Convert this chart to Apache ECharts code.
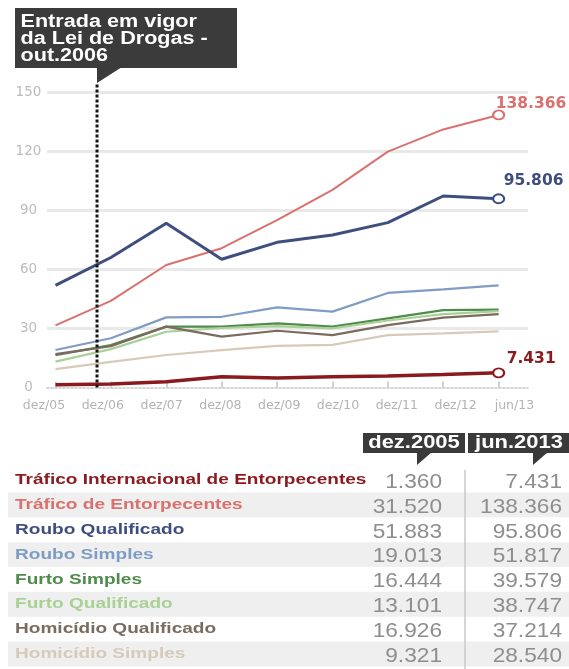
<!DOCTYPE html>
<html>
<head>
<meta charset="utf-8">
<script src="https://cdn.jsdelivr.net/npm/echarts@6/dist/echarts.min.js"></script>
<style>
  html, body { margin: 0; padding: 0; background: #fff; }
  #chart { width: 569px; height: 669px; }
</style>
</head>
<body>
<div id="chart"></div>
<script>
// Time axis: December of each year, last point June 2013
const periods = ['dez/05', 'dez/06', 'dez/07', 'dez/08', 'dez/09', 'dez/10', 'dez/11', 'dez/12', 'jun/13'];
// Value axis ticks (thousands of prisoners)
const yTicks = [0, 30, 60, 90, 120, 150];
// Drug law entering into force (out.2006), in time-axis units
const lawPosition = 0.75;
const lawLineTop = 154.6;
const lawNote = ['Entrada em vigor', 'da Lei de Drogas -', 'out.2006'];
const tableHeaders = ['dez.2005', 'jun.2013'];

// Prisoners by crime, in thousands
const crimeNames = [
  'Tráfico Internacional de Entorpecentes',
  'Tráfico de Entorpecentes',
  'Roubo Qualificado',
  'Roubo Simples',
  'Furto Simples',
  'Furto Qualificado',
  'Homicídio Qualificado',
  'Homicídio Simples'
];
const traficoInternacional = [1.360, 1.8, 2.9, 5.5, 4.8, 5.4, 5.9, 6.6, 7.431];
const traficoEntorpecentes = [31.520, 44, 62.2, 70.7, 85, 100.3, 119.7, 131, 138.366];
const rouboQualificado     = [51.883, 66, 83.4, 65.1, 73.7, 77.4, 83.7, 97.2, 95.806];
const rouboSimples         = [19.013, 25, 35.6, 35.9, 40.7, 38.5, 48, 49.8, 51.817];
const furtoSimples         = [16.444, 21.5, 30.9, 30.9, 32.6, 30.9, 35.1, 39.3, 39.579];
const furtoQualificado     = [13.101, 19.5, 28.3, 30.2, 31.2, 30.0, 34.0, 37.2, 38.747];
const homicidioQualificado = [16.926, 21, 30.9, 25.8, 28.8, 26.6, 31.7, 35.5, 37.214];
const homicidioSimples     = [9.321, 13, 16.5, 19, 21.1, 21.6, 26.6, 27.5, 28.540];

const seriesData = [
  traficoInternacional, traficoEntorpecentes, rouboQualificado, rouboSimples,
  furtoSimples, furtoQualificado, homicidioQualificado, homicidioSimples
];

// Line styles, one per crime (same order as crimeNames)
const lineStyles = [
  { color: '#8b1a1e', width: 3.5, z: 6, endLabel: [8, -14] },
  { color: '#d9716e', width: 2,   z: 4, endLabel: [-3, -10.5] },
  { color: '#3e4e7e', width: 3,   z: 5, endLabel: [5, -17.5] },
  { color: '#7f9dc4', width: 2.2, z: 3 },
  { color: '#4f8c4c', width: 2.2, z: 3 },
  { color: '#a9d096', width: 2.2, z: 3 },
  { color: '#7b6b5f', width: 2.2, z: 3 },
  { color: '#d8cab9', width: 2.2, z: 2 }
];

// 138366 -> "138.366"
function fmtBR(v) {
  const n = Math.round(v * 1000);
  return String(n).replace(/\B(?=(\d{3})+(?!\d))/g, '.');
}

const LABEL_FONT = '"Liberation Sans", Arial, Helvetica, sans-serif';

const series = seriesData.map((vals, k) => {
  const st = lineStyles[k];
  const last = vals.length - 1;
  return {
    type: 'line',
    name: crimeNames[k],
    xAxisIndex: 0,
    yAxisIndex: 0,
    z: st.z,
    silent: true,
    showSymbol: true,
    symbol: 'none',
    lineStyle: { color: st.color, width: st.width },
    itemStyle: { color: st.color },
    data: vals.map((v, i) => {
      if (st.endLabel && i === last) {
        return {
          value: [i, v],
          symbol: 'circle',
          symbolSize: [11, 9],
          itemStyle: { color: '#ffffff', borderColor: st.color, borderWidth: 2 },
          label: {
            show: true,
            position: 'inside',
            align: 'left',
            verticalAlign: 'middle',
            offset: st.endLabel,
            formatter: fmtBR(v),
            color: st.color,
            fontFamily: 'DejaVu Sans',
            fontWeight: 'bold',
            fontSize: 15.5
          }
        };
      }
      return [i, v];
    })
  };
});

// Vertical dotted marker for the law date
series.push({
  type: 'line',
  name: 'Lei de Drogas',
  xAxisIndex: 0,
  yAxisIndex: 0,
  z: 8,
  silent: true,
  clip: false,
  symbol: 'none',
  lineStyle: { color: '#141414', width: 3, type: [3, 2] },
  data: [[lawPosition, 0], [lawPosition, lawLineTop]]
});

// ---- Graphic layer: annotation box and the summary table ----
const graphics = [];

// Annotation box with pointer
graphics.push({ type: 'rect', z: 10, shape: { x: 15, y: 8, width: 222, height: 60 }, style: { fill: '#3b3b3b' } });
graphics.push({ type: 'polygon', z: 10, shape: { points: [[97, 67], [122, 67], [97, 83]] }, style: { fill: '#3b3b3b' } });
const noteY = [22, 39, 56];
lawNote.forEach((t, i) => {
  graphics.push({
    type: 'text', z: 11, x: 20.5, y: noteY[i], scaleX: 1.2,
    style: { text: t, fill: '#ffffff', font: 'bold 18px ' + LABEL_FONT, textAlign: 'left', textVerticalAlign: 'middle' }
  });
});

// Table header tabs
const headerBoxes = [
  { x: 363, w: 102, cx: 414, px: 417 },
  { x: 468, w: 102, cx: 519, px: 533 }
];
tableHeaders.forEach((h, i) => {
  const b = headerBoxes[i];
  graphics.push({ type: 'rect', z: 10, shape: { x: b.x, y: 433, width: b.w, height: 20 }, style: { fill: '#3a3a3a' } });
  graphics.push({ type: 'polygon', z: 10, shape: { points: [[b.px, 452], [b.px + 15, 452], [b.px, 465]] }, style: { fill: '#3a3a3a' } });
  graphics.push({
    type: 'text', z: 11, x: b.cx, y: 443.5, scaleX: 1.22,
    style: { text: h, fill: '#ffffff', font: 'bold 18px ' + LABEL_FONT, textAlign: 'center', textVerticalAlign: 'middle' }
  });
});

// Table rows
const rowTop = 480, rowStep = 24.86;
crimeNames.forEach((name, i) => {
  const cy = rowTop + rowStep * i;
  if (i % 2 === 1) {
    graphics.push({ type: 'rect', z: 1, shape: { x: 8, y: cy - rowStep / 2, width: 561, height: rowStep }, style: { fill: '#efefef' } });
  }
  graphics.push({
    type: 'text', z: 11, x: 15, y: cy, scaleX: 1.27,
    style: { text: name, fill: lineStyles[i].color, font: 'bold 15px ' + LABEL_FONT, textAlign: 'left', textVerticalAlign: 'middle' }
  });
  const vals = seriesData[i];
  [vals[0], vals[vals.length - 1]].forEach((v, c) => {
    graphics.push({
      type: 'text', z: 11, x: c === 0 ? 442 : 562, y: cy + 2, scaleX: 1.08,
      style: { text: fmtBR(v), fill: '#8e8e8e', font: '21px ' + LABEL_FONT, textAlign: 'right', textVerticalAlign: 'middle' }
    });
  });
});
// Column separator
graphics.push({ type: 'line', z: 5, shape: { x1: 465, y1: 470, x2: 465, y2: 669 }, style: { stroke: '#c9c9c9', lineWidth: 1.5 } });

const chart = echarts.init(document.getElementById('chart'), null, { renderer: 'canvas' });
chart.setOption({
  backgroundColor: '#ffffff',
  animation: false,
  grid: [
    { left: 47, top: 92, width: 481, height: 295.5 },
    { left: 14.6, top: 92, width: 529.2, height: 295.5 }
  ],
  xAxis: [
    {
      gridIndex: 0, type: 'value', min: -0.153, max: 8.53,
      axisLine: { show: true, lineStyle: { color: '#c4c4c4', width: 1.5, type: [2, 2] } },
      axisTick: { show: true, inside: true, length: 6, customValues: periods.map((_, i) => i), lineStyle: { color: '#c2c2c2', width: 1.5 } },
      axisLabel: { show: false },
      splitLine: { show: false }
    },
    {
      gridIndex: 1, type: 'category', data: periods, boundaryGap: true,
      axisLine: { show: false }, axisTick: { show: false }, splitLine: { show: false },
      axisLabel: { interval: 0, margin: 12, color: '#b3b3b3', fontFamily: 'DejaVu Sans', fontSize: 12.5 }
    }
  ],
  yAxis: [
    {
      gridIndex: 0, type: 'value', min: yTicks[0], max: yTicks[yTicks.length - 1], interval: yTicks[1] - yTicks[0],
      axisLine: { show: false }, axisTick: { show: false },
      axisLabel: { align: 'center', margin: 18.5, color: '#bcbcbc', fontFamily: 'DejaVu Sans', fontSize: 13.5 },
      splitLine: { show: true, showMinLine: false, lineStyle: { color: '#e9e9e9', width: 3 } }
    },
    { gridIndex: 1, type: 'value', show: false }
  ],
  series: series,
  graphic: { elements: graphics }
});
</script>
</body>
</html>
